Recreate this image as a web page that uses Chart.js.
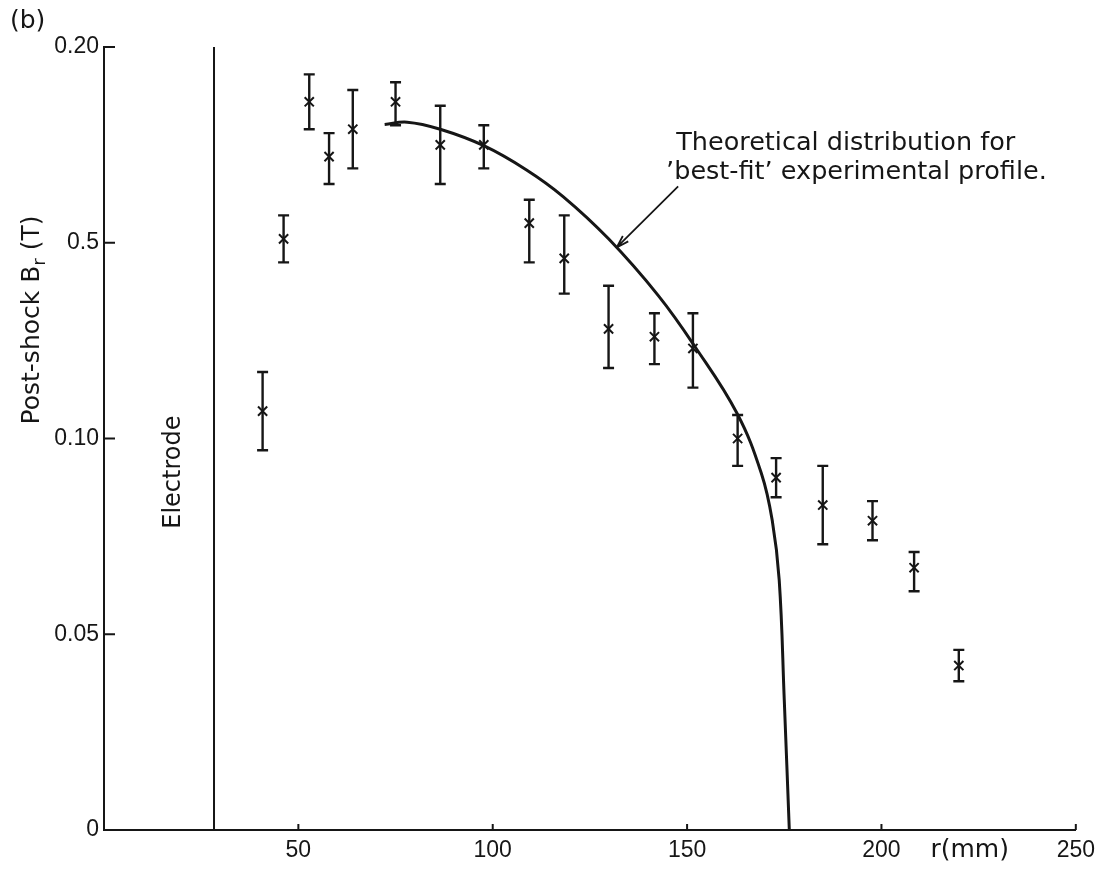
<!DOCTYPE html>
<html>
<head>
<meta charset="utf-8">
<script src="https://cdn.jsdelivr.net/npm/chart.js@4.4.1/dist/chart.umd.min.js"></script>
<style>
  html, body { margin: 0; padding: 0; background: #fff; }
  #wrap { width: 1102px; height: 869px; }
</style>
</head>
<body>
<div id="wrap"><canvas id="myChart" width="1102" height="869"></canvas></div>
<script>
// measured points (r in mm, B in T) with error bar ends
const rPos  = [40.8, 46.2, 52.8, 57.9, 64.0, 75.0, 86.5, 97.7, 109.4, 118.4, 129.8, 141.6, 151.5, 163.0, 172.9, 184.9, 197.7, 208.4, 219.9];
const bMeas = [0.107, 0.151, 0.186, 0.172, 0.179, 0.186, 0.175, 0.175, 0.155, 0.146, 0.128, 0.126, 0.123, 0.100, 0.090, 0.083, 0.079, 0.067, 0.042];
const bLow  = [0.097, 0.145, 0.179, 0.165, 0.169, 0.180, 0.165, 0.169, 0.145, 0.137, 0.118, 0.119, 0.113, 0.093, 0.085, 0.073, 0.074, 0.061, 0.038];
const bHigh = [0.117, 0.157, 0.193, 0.178, 0.189, 0.191, 0.185, 0.180, 0.161, 0.157, 0.139, 0.132, 0.132, 0.106, 0.095, 0.093, 0.084, 0.071, 0.046];

// theoretical curve
const rTheory = [72.2, 78.0, 86.5, 97.7, 108.7, 118.1, 129.8, 142.6, 152.0, 162.8, 169.1, 171.9, 173.7, 175.0, 176.3];
const bTheory = [0.1802, 0.1808, 0.1790, 0.1748, 0.1686, 0.1618, 0.1510, 0.1365, 0.1235, 0.1065, 0.0911, 0.0791, 0.0638, 0.0332, 0];

const rElectrode = 28.3;

const xTickValues = [50, 100, 150, 200, 250];
const xTickLabels = ['50', '100', '150', '200', '250'];
const yTickValues = [0, 0.05, 0.10, 0.15, 0.20];
const yTickLabels = ['0', '0.05', '0.10', '0.5', '0.20'];

const ink = '#161616';
const textFont = '"DejaVu Sans", sans-serif';
const numFont = '"Liberation Sans", Arial, sans-serif';

// error bars, inward ticks and the hand lettering
const extras = {
  id: 'extras',
  afterDatasetsDraw(chart) {
    const ctx = chart.ctx;
    const xs = chart.scales.x, ys = chart.scales.y;
    const area = chart.chartArea;
    ctx.save();
    ctx.strokeStyle = ink;
    ctx.fillStyle = ink;

    // error bars
    ctx.lineWidth = 2.4;
    for (let i = 0; i < rPos.length; i++) {
      const px = xs.getPixelForValue(rPos[i]);
      const top = ys.getPixelForValue(bHigh[i]);
      const bot = ys.getPixelForValue(bLow[i]);
      ctx.beginPath();
      ctx.moveTo(px, top); ctx.lineTo(px, bot);
      ctx.moveTo(px - 5.5, top); ctx.lineTo(px + 5.5, top);
      ctx.moveTo(px - 5.5, bot); ctx.lineTo(px + 5.5, bot);
      ctx.stroke();
    }

    // ticks pointing into the plot
    ctx.lineWidth = 2;
    ctx.beginPath();
    xTickValues.forEach(v => {
      const px = xs.getPixelForValue(v);
      ctx.moveTo(px, area.bottom); ctx.lineTo(px, area.bottom - 6);
    });
    yTickValues.slice(1).forEach(v => {
      const py = ys.getPixelForValue(v);
      ctx.moveTo(area.left, py); ctx.lineTo(area.left + 11, py);
    });
    ctx.stroke();

    // arrow to the curve
    const ax0 = xs.getPixelForValue(147.7), ay0 = ys.getPixelForValue(0.1644);
    const ax1 = xs.getPixelForValue(131.9), ay1 = ys.getPixelForValue(0.1488);
    ctx.lineWidth = 1.8;
    ctx.beginPath();
    ctx.moveTo(ax0, ay0); ctx.lineTo(ax1, ay1);
    const ang = Math.atan2(ay1 - ay0, ax1 - ax0);
    ctx.moveTo(ax1, ay1);
    ctx.lineTo(ax1 - 13 * Math.cos(ang - 0.3), ay1 - 13 * Math.sin(ang - 0.3));
    ctx.moveTo(ax1, ay1);
    ctx.lineTo(ax1 - 13 * Math.cos(ang + 0.3), ay1 - 13 * Math.sin(ang + 0.3));
    ctx.stroke();

    // annotation text
    ctx.font = '25.5px ' + textFont;
    ctx.textBaseline = 'middle';
    ctx.textAlign = 'left';
    ctx.fillText('Theoretical distribution for', xs.getPixelForValue(147.2), ys.getPixelForValue(0.1754));
    ctx.fillText('\u2019best-fit\u2019 experimental profile.', xs.getPixelForValue(144.6), ys.getPixelForValue(0.1680));

    // x axis name
    ctx.font = '25px ' + textFont;
    ctx.textAlign = 'center';
    ctx.fillText('r(mm)', xs.getPixelForValue(222.7), area.bottom + 20);

    // electrode label
    ctx.save();
    ctx.translate(xs.getPixelForValue(17.9), ys.getPixelForValue(0.0914));
    ctx.rotate(-Math.PI / 2);
    ctx.font = '24px ' + textFont;
    ctx.fillText('Electrode', 0, 0);
    ctx.restore();

    // y axis title with subscript
    ctx.save();
    ctx.translate(32, 320);
    ctx.rotate(-Math.PI / 2);
    const main = 'Post-shock B', sub = 'r', tail = ' (T)';
    ctx.font = '25px ' + textFont;
    const w1 = ctx.measureText(main).width, w3 = ctx.measureText(tail).width;
    ctx.font = '18px ' + textFont;
    const w2 = ctx.measureText(sub).width;
    const x0 = -(w1 + w2 + w3) / 2;
    ctx.textAlign = 'left';
    ctx.font = '25px ' + textFont;
    ctx.fillText(main, x0, 0);
    ctx.font = '18px ' + textFont;
    ctx.fillText(sub, x0 + w1, 8);
    ctx.font = '25px ' + textFont;
    ctx.fillText(tail, x0 + w1 + w2, 0);
    ctx.restore();

    // panel letter
    ctx.font = '25px ' + textFont;
    ctx.textAlign = 'left';
    ctx.fillText('(b)', 10, 21);
    ctx.restore();
  }
};

const ct = document.getElementById('myChart').getContext('2d');
const myChart = new Chart(ct, {
  type: 'scatter',
  data: {
    datasets: [
      {
        label: 'Measured',
        data: rPos.map((r, i) => ({ x: r, y: bMeas[i] })),
        pointStyle: 'crossRot',
        pointRadius: 6.5,
        borderColor: ink,
        borderWidth: 2,
        showLine: false
      },
      {
        label: 'Theory',
        data: rTheory.map((r, i) => ({ x: r, y: bTheory[i] })),
        showLine: true,
        pointRadius: 0,
        borderColor: ink,
        borderWidth: 3,
        tension: 0.4,
        fill: false
      },
      {
        label: 'Electrode',
        data: [{ x: rElectrode, y: 0 }, { x: rElectrode, y: 0.2 }],
        showLine: true,
        pointRadius: 0,
        borderColor: ink,
        borderWidth: 2
      }
    ]
  },
  options: {
    responsive: false,
    animation: false,
    layout: { padding: { left: 0, right: 0, top: 47, bottom: 0 } },
    plugins: {
      legend: { display: false },
      tooltip: { enabled: false }
    },
    scales: {
      x: {
        type: 'linear',
        min: 0,
        max: 250,
        afterBuildTicks: s => { s.ticks = xTickValues.map(v => ({ value: v })); },
        afterFit: s => { s.height = 39; },
        grid: { display: false, drawTicks: false },
        border: { display: true, color: ink, width: 2 },
        ticks: {
          autoSkip: false,
          maxRotation: 0,
          padding: 7,
          color: ink,
          font: { family: numFont, size: 23 },
          callback: (v, i) => xTickLabels[i]
        }
      },
      y: {
        type: 'linear',
        min: 0,
        max: 0.2,
        afterBuildTicks: s => { s.ticks = yTickValues.map(v => ({ value: v })); },
        afterFit: s => { s.width = 104; },
        grid: { display: false, drawTicks: false },
        border: { display: true, color: ink, width: 2 },
        ticks: {
          autoSkip: false,
          padding: 5,
          color: ink,
          font: { family: numFont, size: 23 },
          callback: (v, i) => yTickLabels[i]
        }
      }
    }
  },
  plugins: [extras]
});
</script>
</body>
</html>
